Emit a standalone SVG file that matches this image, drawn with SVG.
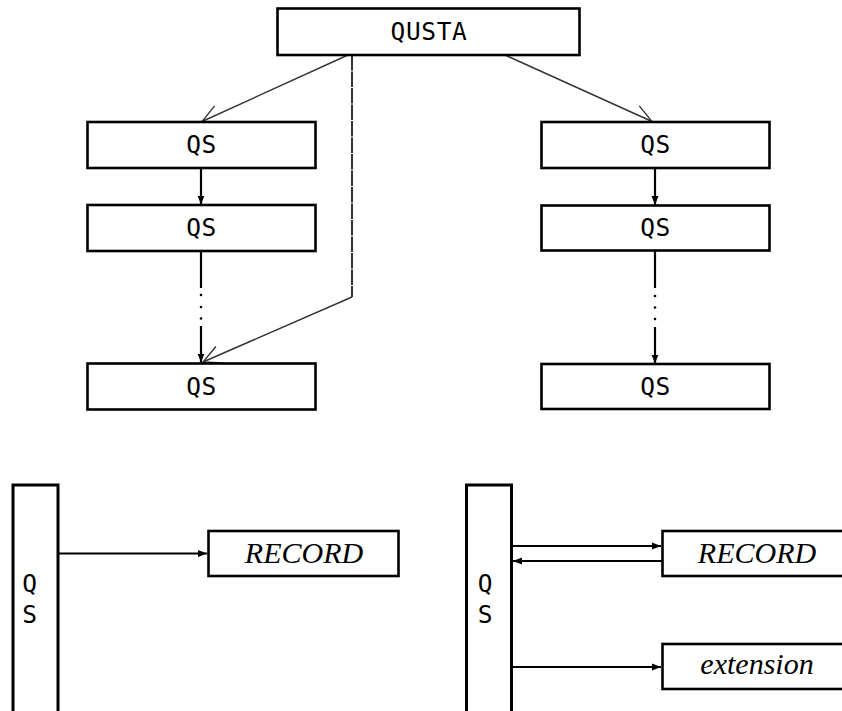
<svg xmlns="http://www.w3.org/2000/svg" width="842" height="711" viewBox="0 0 842 711">
  <style>
    .box { fill: #fff; stroke: #000; stroke-width: 2.6; }
    .bar { fill: #fff; stroke: #000; stroke-width: 3; }
    .tt { font-family: "DejaVu Sans Mono", "Liberation Mono", monospace; font-size: 24.5px; letter-spacing: 0.6px; fill: #000; text-anchor: middle; }
    .it { font-family: "Liberation Serif", "DejaVu Serif", serif; font-style: italic; font-size: 30px; fill: #000; text-anchor: middle; }
    .flow { fill: none; stroke: #000; stroke-width: 2.2; }
    .link { fill: none; stroke: #333; stroke-width: 1.4; }
    .dash { fill: none; stroke: #333; stroke-width: 2; stroke-dasharray: 15.5 1; }
    .dot { fill: #000; }
  </style>
  <defs>
    <marker id="solid" viewBox="-9 -4 10 8" refX="0" refY="0" markerWidth="10" markerHeight="8" markerUnits="userSpaceOnUse" orient="auto">
      <path d="M -9,-3.5 L 0,0 L -9,3.5 Z" fill="#000"/>
    </marker>
    <marker id="open" viewBox="-20 -11 22 22" refX="0" refY="0" markerWidth="22" markerHeight="22" markerUnits="userSpaceOnUse" orient="auto">
      <path d="M -18,-9 L 0,0 L -18,9" fill="none" stroke="#333" stroke-width="1.4"/>
    </marker>
  </defs>

  <!-- connectors -->
  <g id="connectors">
    <!-- QUSTA to the first QS of each chain -->
    <line class="link" x1="348" y1="55" x2="202" y2="121.5" marker-end="url(#open)"/>
    <line class="link" x1="505" y1="55" x2="652" y2="121.5" marker-end="url(#open)"/>
    <!-- QUSTA straight to the last QS of the left chain -->
    <line class="dash" x1="352" y1="55" x2="352" y2="297"/>
    <line class="link" x1="352" y1="297" x2="203" y2="362" marker-end="url(#open)"/>

    <!-- left chain -->
    <line class="flow" x1="201" y1="168" x2="201" y2="204.5" marker-end="url(#solid)"/>
    <line class="flow" x1="201" y1="251" x2="201" y2="288"/>
    <circle class="dot" cx="201" cy="295" r="1.3"/>
    <circle class="dot" cx="201" cy="307" r="1.3"/>
    <circle class="dot" cx="201" cy="318.5" r="1.3"/>
    <line class="flow" x1="201" y1="326" x2="201" y2="362.5" marker-end="url(#solid)"/>

    <!-- right chain -->
    <line class="flow" x1="655" y1="168" x2="655" y2="205" marker-end="url(#solid)"/>
    <line class="flow" x1="655" y1="250.5" x2="655" y2="288"/>
    <circle class="dot" cx="655" cy="296" r="1.3"/>
    <circle class="dot" cx="655" cy="307.5" r="1.3"/>
    <circle class="dot" cx="655" cy="319" r="1.3"/>
    <line class="flow" x1="655" y1="327" x2="655" y2="363.5" marker-end="url(#solid)"/>

    <!-- lower left -->
    <line class="flow" x1="58" y1="553.5" x2="207" y2="553.5" stroke-width="2.8" marker-end="url(#solid)"/>

    <!-- lower right -->
    <line class="flow" x1="512" y1="546" x2="661" y2="546" marker-end="url(#solid)"/>
    <line class="flow" x1="662" y1="561" x2="513" y2="561" marker-end="url(#solid)"/>
    <line class="flow" x1="512" y1="667" x2="661" y2="667" marker-end="url(#solid)"/>
  </g>

  <!-- top node -->
  <g id="qusta">
    <rect class="box" x="277.5" y="8.5" width="302" height="46.5"/>
    <text class="tt" x="429" y="40">QUSTA</text>
  </g>

  <!-- left chain nodes -->
  <g id="qs-left-1">
    <rect class="box" x="87.5" y="122" width="228" height="46"/>
    <text class="tt" x="201.5" y="153">QS</text>
  </g>
  <g id="qs-left-2">
    <rect class="box" x="87.5" y="205" width="228" height="46"/>
    <text class="tt" x="201.5" y="236">QS</text>
  </g>
  <g id="qs-left-3">
    <rect class="box" x="87.5" y="363.5" width="228" height="46"/>
    <text class="tt" x="201.5" y="394.5">QS</text>
  </g>

  <!-- right chain nodes -->
  <g id="qs-right-1">
    <rect class="box" x="541.5" y="122" width="228" height="46"/>
    <text class="tt" x="655.5" y="153">QS</text>
  </g>
  <g id="qs-right-2">
    <rect class="box" x="541.5" y="205.5" width="228" height="45"/>
    <text class="tt" x="655.5" y="236">QS</text>
  </g>
  <g id="qs-right-3">
    <rect class="box" x="541.5" y="364" width="228" height="45"/>
    <text class="tt" x="655.5" y="394.5">QS</text>
  </g>

  <!-- lower left panel -->
  <g id="qs-bar-left">
    <rect class="bar" x="13" y="485" width="45" height="260"/>
    <text class="tt" x="30" y="592">Q</text>
    <text class="tt" x="30" y="623">S</text>
  </g>
  <g id="record-left">
    <rect class="box" x="208.5" y="531" width="190" height="45"/>
    <text class="it" x="304" y="563">RECORD</text>
  </g>

  <!-- lower right panel -->
  <g id="qs-bar-right">
    <rect class="bar" x="466.5" y="485" width="45" height="260"/>
    <text class="tt" x="485.5" y="592">Q</text>
    <text class="tt" x="485.5" y="623">S</text>
  </g>
  <g id="record-right">
    <rect class="box" x="662.5" y="531" width="190" height="45"/>
    <text class="it" x="757" y="563">RECORD</text>
  </g>
  <g id="extension">
    <rect class="box" x="662.5" y="644" width="190" height="45"/>
    <text class="it" x="757" y="674">extension</text>
  </g>
</svg>
